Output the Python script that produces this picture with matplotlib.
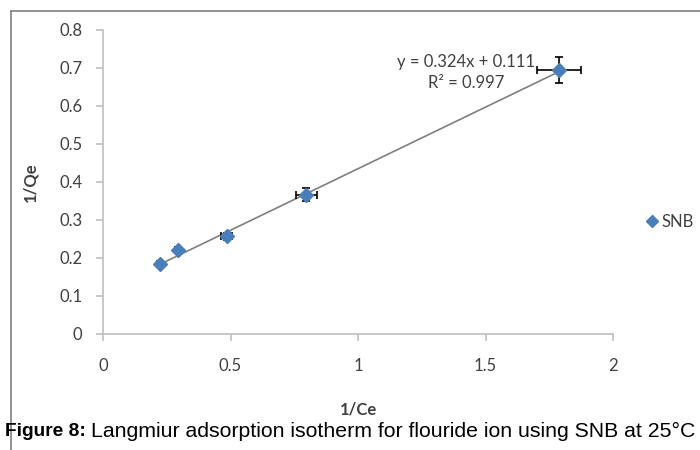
import matplotlib.pyplot as plt
from matplotlib.lines import Line2D

# data
inv_ce = [0.223, 0.294, 0.485, 0.798, 1.789]
inv_qe = [0.184, 0.221, 0.257, 0.366, 0.695]
xerr = [0.010, 0.012, 0.022, 0.040, 0.086]
yerr = [0.005, 0.008, 0.010, 0.017, 0.034]
slope, intercept = 0.324, 0.111
r2 = 0.997

blue = "#4a7ebb"
grey_axis = "#bfbfbf"
label_col = "#404040"
font = ["Lato", "DejaVu Sans"]
fs = 12

fig = plt.figure(figsize=(7, 4.5), dpi=100)
ax = fig.add_axes([103 / 700, 1 - 334 / 450, 510 / 700, 304 / 450])

fit_x = [min(inv_ce), max(inv_ce)]
fit_y = [slope * v + intercept for v in fit_x]
ax.plot(fit_x, fit_y, color="#7f7f7f", lw=1.2, zorder=1)
ax.errorbar(inv_ce, inv_qe, xerr=xerr, yerr=yerr, fmt="D", color=blue, ms=7,
            ecolor="black", elinewidth=1.2, capsize=3, capthick=1.2, zorder=3)

ax.set_xlim(0, 2)
ax.set_ylim(0, 0.8)
ax.set_xticks([0, 0.5, 1, 1.5, 2])
ax.set_xticklabels(["0", "0.5", "1", "1.5", "2"])
ax.set_yticks([0, 0.1, 0.2, 0.3, 0.4, 0.5, 0.6, 0.7, 0.8])
ax.set_yticklabels(["0", "0.1", "0.2", "0.3", "0.4", "0.5", "0.6", "0.7", "0.8"])
for side in ("top", "right"):
    ax.spines[side].set_visible(False)
for side in ("left", "bottom"):
    ax.spines[side].set_color(grey_axis)
    ax.spines[side].set_linewidth(1.2)
ax.tick_params(colors=grey_axis, labelcolor=label_col, length=5, width=1.2, labelsize=fs)
ax.tick_params(axis="x", pad=12)
ax.tick_params(axis="y", pad=10)
for lab in ax.get_xticklabels() + ax.get_yticklabels():
    lab.set_family(font)

ax.set_xlabel("1/Ce", fontsize=fs, fontweight="bold", color=label_col, family=font, labelpad=20)
ax.set_ylabel("1/Qe", fontsize=fs, fontweight="bold", color=label_col, family=font, labelpad=15)

ax.text(1.424, 0.716, f"y = {slope}x + {intercept}", ha="center", va="center",
        fontsize=fs, color=label_col, family=font)
ax.text(1.424, 0.660, f"R² = {r2}", ha="center", va="center",
        fontsize=fs, color=label_col, family=font)

handle = Line2D([], [], marker="D", color=blue, ls="none", ms=6)
leg = ax.legend([handle], ["SNB"], loc="center left", bbox_to_anchor=(1.03, 0.37),
                frameon=False, handletextpad=0.1, handlelength=1.0,
                prop={"family": font, "size": fs})
for t in leg.get_texts():
    t.set_color(label_col)

# outer chart frame (left and top edges visible in reference)
fig.add_artist(Line2D([11 / 700, 11 / 700], [0, 1 - 11 / 450], transform=fig.transFigure,
                      color="#808080", lw=1.2))
fig.add_artist(Line2D([11 / 700, 1], [1 - 11 / 450, 1 - 11 / 450], transform=fig.transFigure,
                      color="#808080", lw=1.2))

cap_font = ["Liberation Sans", "DejaVu Sans"]
fig.text(5 / 700, 1 - 431 / 450, "Figure 8:", fontsize=13.8, fontweight="bold",
         family=cap_font, va="center", ha="left")
fig.text(91 / 700, 1 - 431 / 450, "Langmiur adsorption isotherm for flouride ion using SNB at 25°C",
         fontsize=15.3, family=cap_font, va="center", ha="left")

fig.savefig("out.png", dpi=100)
